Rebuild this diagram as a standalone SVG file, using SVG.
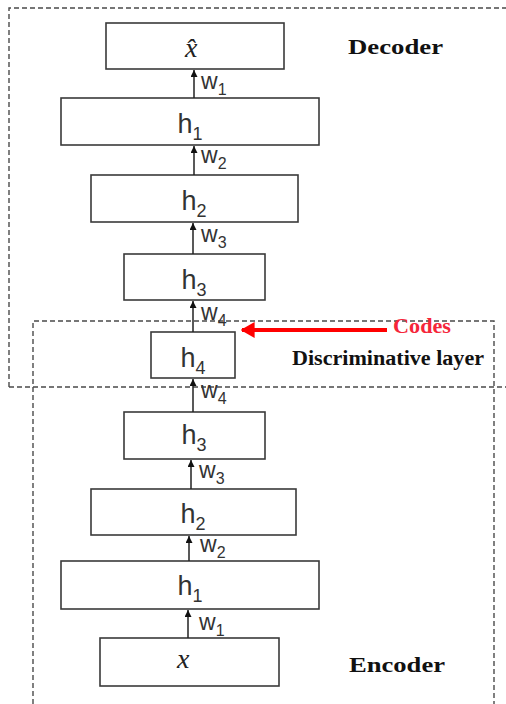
<svg xmlns="http://www.w3.org/2000/svg" width="506" height="704" viewBox="0 0 506 704">
<style>
.box{fill:#fff;stroke:#3a3a3a;stroke-width:1.6}
.dash{fill:none;stroke:#4a4a4a;stroke-width:1.4;stroke-dasharray:5 3}
.h{font-family:"Liberation Sans",Arial,sans-serif;font-size:27px;fill:#333;text-anchor:middle}
.sub{font-family:"Liberation Sans",Arial,sans-serif;font-size:18px;fill:#333}
.w{font-family:"Liberation Sans",Arial,sans-serif;font-size:23px;fill:#333}
.ws{font-family:"Liberation Sans",Arial,sans-serif;font-size:16px;fill:#333}
.lbl{font-family:"Liberation Serif","Times New Roman",serif;font-weight:bold;font-size:20px;fill:#111}
.mx{font-family:"Liberation Serif","Times New Roman",serif;font-style:italic;font-size:28px;fill:#222}
.conn{stroke:#222;stroke-width:1.5;fill:none;marker-end:url(#ah)}
</style>
<defs>
<marker id="ah" viewBox="0 0 10 10" refX="10" refY="5" markerWidth="7" markerHeight="7" markerUnits="userSpaceOnUse" orient="auto">
<path d="M0,0 L10,5 L0,10 z" fill="#111"/>
</marker>
<marker id="rah" viewBox="0 0 10 10" refX="9" refY="5" markerWidth="14" markerHeight="16" markerUnits="userSpaceOnUse" orient="auto" preserveAspectRatio="none">
<path d="M0,0 L10,5 L0,10 z" fill="#f00"/>
</marker>
</defs>

<g id="decoder-frame">
<path class="dash" d="M9,387 L9,8 L506,8"/>
<path class="dash" d="M9,387 L506,387"/>
<text class="lbl" x="348" y="54" textLength="95" lengthAdjust="spacingAndGlyphs">Decoder</text>
</g>

<g id="encoder-frame">
<path class="dash" d="M33,704 L33,321 L494,321 L494,704"/>
<text class="lbl" x="349" y="672" textLength="96" lengthAdjust="spacingAndGlyphs">Encoder</text>
</g>

<g id="node-xhat">
<rect class="box" x="106" y="23" width="178" height="46"/>
<text class="mx" x="185" y="57">x̂</text>
</g>
<g id="node-dec-h1">
<rect class="box" x="61" y="98" width="258" height="47"/>
<text class="h" x="190" y="133">h<tspan class="sub" dy="7">1</tspan></text>
</g>
<g id="node-dec-h2">
<rect class="box" x="91" y="175" width="207" height="47"/>
<text class="h" x="194" y="210">h<tspan class="sub" dy="7">2</tspan></text>
</g>
<g id="node-dec-h3">
<rect class="box" x="124" y="254" width="141" height="46"/>
<text class="h" x="194" y="289">h<tspan class="sub" dy="7">3</tspan></text>
</g>
<g id="node-h4">
<rect class="box" x="151" y="332" width="84" height="46"/>
<text class="h" x="193" y="367">h<tspan class="sub" dy="7">4</tspan></text>
</g>
<g id="node-enc-h3">
<rect class="box" x="124" y="412" width="141" height="47"/>
<text class="h" x="194" y="444">h<tspan class="sub" dy="7">3</tspan></text>
</g>
<g id="node-enc-h2">
<rect class="box" x="91" y="489" width="205" height="46"/>
<text class="h" x="193" y="523">h<tspan class="sub" dy="7">2</tspan></text>
</g>
<g id="node-enc-h1">
<rect class="box" x="61" y="561" width="258" height="48"/>
<text class="h" x="190" y="595">h<tspan class="sub" dy="7">1</tspan></text>
</g>
<g id="node-x">
<rect class="box" x="100" y="638" width="179" height="48"/>
<text class="mx" x="177" y="668">x</text>
</g>

<g id="codes-label">
<text class="lbl" x="393" y="333" style="fill:#f5263a" textLength="58" lengthAdjust="spacingAndGlyphs">Codes</text>
<text class="lbl" x="292" y="365" textLength="192" lengthAdjust="spacingAndGlyphs">Discriminative layer</text>
</g>

<g id="connectors">
<line class="conn" x1="188" y1="638" x2="188" y2="610"/>
<line class="conn" x1="189" y1="561" x2="189" y2="536"/>
<line class="conn" x1="191" y1="489" x2="191" y2="460"/>
<line class="conn" x1="193" y1="412" x2="193" y2="379"/>
<line class="conn" x1="193" y1="332" x2="193" y2="301"/>
<line class="conn" x1="193" y1="254" x2="193" y2="223"/>
<line class="conn" x1="194" y1="175" x2="194" y2="146"/>
<line class="conn" x1="194" y1="98" x2="194" y2="70"/>
<line x1="387" y1="330" x2="242" y2="330" stroke="#f00" stroke-width="4" marker-end="url(#rah)"/>
<text class="w" x="199" y="630">w<tspan class="ws" dy="6">1</tspan></text>
<text class="w" x="200" y="552">w<tspan class="ws" dy="6">2</tspan></text>
<text class="w" x="199" y="478">w<tspan class="ws" dy="6">3</tspan></text>
<text class="w" x="201" y="398">w<tspan class="ws" dy="6">4</tspan></text>
<text class="w" x="201" y="320">w<tspan class="ws" dy="6">4</tspan></text>
<text class="w" x="201" y="242">w<tspan class="ws" dy="6">3</tspan></text>
<text class="w" x="201" y="163">w<tspan class="ws" dy="6">2</tspan></text>
<text class="w" x="201" y="89">w<tspan class="ws" dy="6">1</tspan></text>
</g>
</svg>
